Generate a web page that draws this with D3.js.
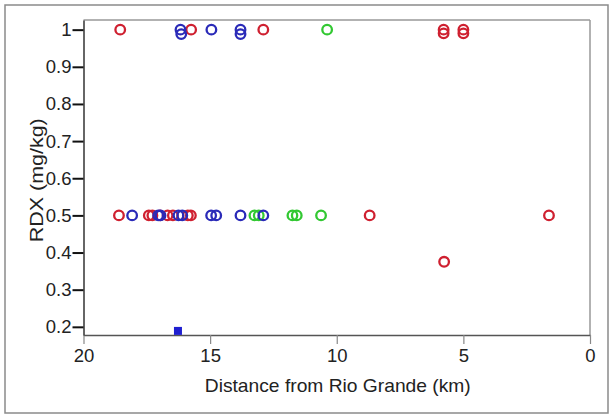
<!DOCTYPE html>
<html><head><meta charset="utf-8">
<script src="https://cdn.jsdelivr.net/npm/d3@7"></script>
<style>body{margin:0;background:#fff;}svg{display:block;}</style>
</head><body>
<script>
// Data: [distance km, RDX mg/kg]
const redPoints = [
  [18.55,1.0],[15.75,1.0],[12.9,1.0],[5.78,1.0],[5.78,0.99],[5.0,1.0],[5.0,0.99],
  [18.6,0.5],[17.42,0.5],[17.28,0.5],[16.98,0.5],[16.68,0.5],[16.47,0.5],[15.88,0.5],[15.76,0.5],
  [8.7,0.5],[1.62,0.5],[5.76,0.375]
];
const bluePoints = [
  [16.17,1.0],[16.14,0.988],[14.95,1.0],[13.8,1.0],[13.8,0.988],
  [18.08,0.5],[17.05,0.5],[16.96,0.5],[16.25,0.5],[16.1,0.5],[14.96,0.5],[14.76,0.5],[13.8,0.5],[12.9,0.5]
];
const greenPoints = [
  [10.38,1.0],[13.25,0.5],[13.08,0.5],[11.75,0.5],[11.58,0.5],[10.62,0.5]
];
const squarePoints = [[16.27,0.189]];
const xTicks = [20,15,10,5,0];
const yTicks = [0.2,0.3,0.4,0.5,0.6,0.7,0.8,0.9,1];
const xLabel = "Distance from Rio Grande (km)";
const yLabel = "RDX (mg/kg)";

const W = 613, H = 417;
const svg = d3.select("body").append("svg").attr("width", W).attr("height", H);
svg.append("rect").attr("x",5).attr("y",5).attr("width",603).attr("height",408)
  .attr("fill","#fff").attr("stroke","#8a8a8a").attr("stroke-width",1.5);

const x = d3.scaleLinear().domain([20,0]).range([83.5,590]);
const y = d3.scaleLinear().domain([0.178,1.026]).range([335,20]);
const font = "'Liberation Sans', Arial, sans-serif";
const fs = 18.5;

// frame top/right
svg.append("line").attr("x1",x(20)).attr("x2",x(0)).attr("y1",y(1.026)).attr("y2",y(1.026)).attr("stroke","#999").attr("stroke-width",1.5);
svg.append("line").attr("x1",x(0)).attr("x2",x(0)).attr("y1",y(1.026)).attr("y2",y(0.178)).attr("stroke","#999").attr("stroke-width",1.5);

// x axis
const gx = svg.append("g").attr("transform",`translate(0,${y(0.178)})`)
  .call(d3.axisBottom(x).tickValues(xTicks).tickSize(9).tickSizeOuter(0).tickFormat(d3.format("d")));
gx.select(".domain").attr("stroke","#555").attr("stroke-width",1.5);
gx.selectAll(".tick line").attr("stroke","#888").attr("stroke-width",1.2);
gx.selectAll("text").attr("font-family",font).attr("font-size",fs).attr("fill","#222").attr("y",11).attr("dy","0.85em");

// y axis
const gy = svg.append("g").attr("transform",`translate(${x(20)},0)`)
  .call(d3.axisLeft(y).tickValues(yTicks).tickSize(11).tickSizeOuter(0).tickFormat(d3.format("~g")));
gy.select(".domain").attr("stroke","#333").attr("stroke-width",1.5);
gy.selectAll(".tick line").attr("stroke","#111").attr("stroke-width",2);
gy.selectAll("text").attr("font-family",font).attr("font-size",fs).attr("fill","#222").attr("x",-12);

// labels
svg.append("text").attr("x",(x(20)+x(0))/2 + 1).attr("y",392).attr("text-anchor","middle")
  .attr("font-family",font).attr("font-size",fs).attr("fill","#222")
  .attr("textLength",266).attr("lengthAdjust","spacingAndGlyphs").text(xLabel);
svg.append("text").attr("transform",`translate(43,${y(0.6)+2}) rotate(-90)`).attr("text-anchor","middle")
  .attr("font-family",font).attr("font-size",fs).attr("fill","#222")
  .attr("textLength",124).attr("lengthAdjust","spacingAndGlyphs").text(yLabel);

function circles(data, color){
  svg.append("g").selectAll("circle").data(data).join("circle")
    .attr("cx",d=>x(d[0])).attr("cy",d=>y(d[1])).attr("r",4.8)
    .attr("fill","none").attr("stroke",color).attr("stroke-width",2.3);
}
circles(redPoints,"#cf2030");
circles(greenPoints,"#32c832");
circles(bluePoints,"#2a2ab8");

svg.append("g").selectAll("rect").data(squarePoints).join("rect")
  .attr("x",d=>x(d[0])-4).attr("y",d=>y(d[1])-4).attr("width",8).attr("height",8)
  .attr("fill","#1f1fd0");
</script>
</body></html>
